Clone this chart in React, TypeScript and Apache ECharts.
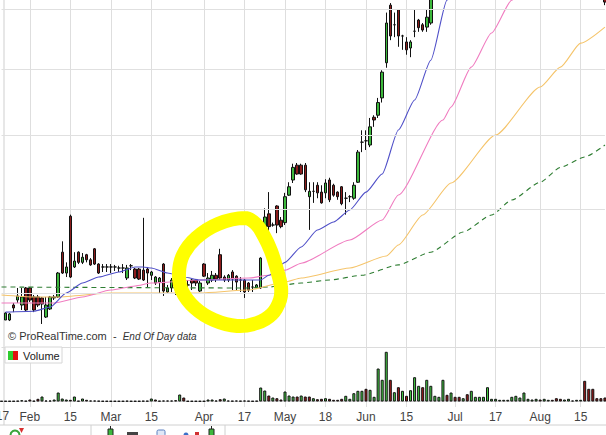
import React, { useEffect, useRef } from "react";
import * as echarts from "echarts";

// trading-day slots (index based), 150 sessions shown
const categories: string[] = Array.from({ length: 150 }, (_, i) => "day" + i);

// x-axis tick labels: [session index, text]
const tickLabels: [number, string][] = [
  [0, "17"], [7, "Feb"], [17, "15"], [27, "Mar"], [37, "15"], [50, "Apr"], [60, "17"],
  [70, "May"], [80, "18"], [90, "Jun"], [100, "15"], [112, "Jul"], [122, "17"], [133, "Aug"], [143, "15"],
];

// candles: [index, open, close, low, high]
const candles: [number, number, number, number, number][] = [
  [1, 6.705, 6.78, 6.705, 6.79], [2, 6.705, 6.77, 6.694, 6.78], [3, 6.867, 6.835, 6.79, 6.89],
  [4, 6.922, 6.967, 6.89, 7.056], [5, 6.867, 6.956, 6.813, 7.056], [6, 7.056, 6.813, 6.80, 7.067],
  [7, 7.056, 6.922, 6.90, 7.067], [8, 6.956, 6.813, 6.79, 6.978], [9, 6.956, 6.867, 6.845, 6.978],
  [10, 6.945, 6.878, 6.663, 6.956], [11, 6.737, 6.867, 6.727, 6.956], [12, 6.824, 6.956, 6.813, 6.967],
  [13, 6.945, 6.956, 6.922, 6.978], [14, 6.956, 7.226, 6.945, 7.238], [15, 7.47, 7.226, 7.215, 7.60],
  [16, 7.226, 7.296, 7.18, 7.35], [17, 7.91, 7.18, 7.169, 7.93], [18, 7.296, 7.365, 7.284, 7.47],
  [19, 7.47, 7.35, 7.33, 7.48], [20, 7.35, 7.41, 7.33, 7.46], [21, 7.44, 7.38, 7.35, 7.45],
  [22, 7.38, 7.32, 7.31, 7.40], [23, 7.51, 7.33, 7.32, 7.52], [24, 7.33, 7.226, 7.215, 7.34],
  [25, 7.296, 7.296, 7.238, 7.33], [26, 7.296, 7.296, 7.238, 7.33], [27, 7.296, 7.296, 7.226, 7.33],
  [28, 7.296, 7.296, 7.25, 7.32], [29, 7.284, 7.284, 7.238, 7.31], [30, 7.284, 7.284, 7.226, 7.33],
  [31, 7.169, 7.284, 7.146, 7.32], [32, 7.31, 7.31, 7.26, 7.33], [33, 7.272, 7.169, 7.157, 7.284],
  [34, 7.272, 7.157, 7.146, 7.284], [35, 7.26, 7.146, 7.135, 7.89], [36, 7.272, 7.226, 7.067, 7.296],
  [37, 7.20, 7.238, 7.146, 7.25], [38, 7.112, 7.18, 7.09, 7.19], [39, 7.123, 7.169, 7.00, 7.18],
  [40, 7.33, 7.022, 6.967, 7.34], [41, 7.011, 7.056, 6.989, 7.09], [42, 7.056, 7.146, 7.011, 7.169],
  [43, 7.09, 7.09, 6.978, 7.146], [44, 7.067, 7.112, 7.045, 7.123], [45, 7.146, 7.101, 7.056, 7.169],
  [46, 7.09, 7.09, 7.011, 7.146], [47, 7.146, 7.112, 7.033, 7.157], [48, 7.146, 7.112, 7.079, 7.157],
  [49, 7.022, 7.112, 7.011, 7.135], [50, 7.33, 7.19, 7.18, 7.34], [51, 7.112, 7.169, 7.09, 7.226],
  [52, 7.146, 7.20, 7.123, 7.25], [53, 7.20, 7.157, 7.123, 7.226], [54, 7.44, 7.169, 7.146, 7.51],
  [55, 7.18, 7.146, 7.123, 7.20], [56, 7.146, 7.20, 7.123, 7.215], [57, 7.238, 7.157, 7.033, 7.26],
  [58, 7.19, 7.123, 7.033, 7.20], [59, 7.146, 7.146, 7.011, 7.18], [60, 7.146, 7.011, 6.945, 7.157],
  [61, 7.112, 7.033, 7.011, 7.123], [62, 7.067, 7.067, 7.011, 7.146], [63, 7.056, 7.09, 7.045, 7.101],
  [64, 7.056, 7.40, 7.045, 7.41], [65, 7.62, 7.90, 7.50, 8.01], [66, 7.94, 7.78, 7.70, 8.22],
  [67, 7.80, 7.80, 7.78, 7.83], [68, 8.04, 7.80, 7.70, 8.05], [69, 7.86, 7.78, 7.76, 7.90],
  [70, 7.83, 8.16, 7.80, 8.21], [71, 8.18, 8.29, 8.17, 8.35], [72, 8.38, 8.55, 8.34, 8.60],
  [73, 8.58, 8.46, 8.45, 8.61], [74, 8.58, 8.46, 8.45, 8.60], [75, 8.58, 8.25, 8.22, 8.61],
  [76, 8.16, 8.23, 7.74, 8.35], [77, 8.23, 8.23, 8.08, 8.35], [78, 8.31, 8.21, 8.14, 8.35],
  [79, 8.22, 8.08, 8.07, 8.31], [80, 8.21, 8.34, 8.14, 8.39], [81, 8.38, 8.12, 8.09, 8.41],
  [82, 8.31, 8.18, 8.16, 8.33], [83, 8.22, 8.16, 8.12, 8.23], [84, 8.29, 8.07, 8.05, 8.30],
  [85, 8.14, 8.14, 7.93, 8.22], [86, 8.16, 8.16, 8.09, 8.18], [87, 8.14, 8.31, 8.12, 8.35],
  [88, 8.35, 8.76, 8.34, 8.79], [89, 8.90, 8.90, 8.76, 9.07], [90, 8.92, 8.92, 8.79, 9.07],
  [91, 8.86, 9.12, 8.83, 9.25], [92, 9.26, 9.22, 9.12, 9.29], [93, 9.29, 9.48, 9.25, 9.55],
  [94, 9.55, 9.95, 9.48, 9.98], [95, 10.10, 10.76, 10.02, 10.94], [96, 11.07, 10.54, 10.47, 11.107],
  [97, 10.73, 10.73, 10.52, 10.94], [98, 10.99, 10.54, 10.36, 10.99], [99, 10.54, 10.54, 10.31, 10.56],
  [100, 10.44, 10.31, 10.23, 10.52], [101, 10.34, 10.44, 10.19, 10.47], [102, 10.62, 10.62, 10.52, 10.99],
  [103, 10.81, 10.68, 10.61, 10.83], [104, 10.73, 10.64, 10.61, 10.76], [105, 10.69, 10.86, 10.61, 10.99],
  [106, 10.76, 11.43, 10.73, 11.52], [149, 11.52, 11.125, 11.07, 11.61],
];

// moving averages: [index, value]
const maBlue: [number, number][] = [
  [1, 6.79], [8, 6.80], [12, 6.845], [16, 7.0], [20, 7.112], [24, 7.18], [29, 7.238], [33, 7.296],
  [35, 7.296], [37, 7.284], [41, 7.226], [45, 7.18], [49, 7.146], [57, 7.146], [64, 7.146], [66, 7.2],
  [70, 7.35], [74, 7.532], [78, 7.738], [82, 7.838], [86, 7.989], [90, 8.22], [94, 8.46], [98, 9.074],
  [102, 9.518], [106, 10.14], [110, 11.16], [113, 11.81],
];
const maPink: [number, number][] = [
  [0, 6.89], [13, 6.89], [20, 6.956], [27, 7.033], [33, 7.079], [37, 7.112], [49, 7.146], [61, 7.169],
  [66, 7.2], [70, 7.26], [74, 7.34], [86, 7.616], [94, 7.863], [98, 8.182], [109, 9.22], [111, 9.413],
  [116, 10.03], [121, 10.59], [126, 11.16], [130, 11.61],
];
const maOrange: [number, number][] = [
  [0, 6.978], [8, 6.956], [14, 6.956], [27, 7.0], [37, 7.0], [49, 7.0], [61, 7.033], [70, 7.123],
  [74, 7.169], [86, 7.284], [95, 7.424], [98, 7.556], [104, 7.926], [111, 8.34], [122, 9.002],
  [133, 9.717], [138, 10.03], [143, 10.42], [149, 10.69],
];
const maGreen: [number, number][] = [
  [0, 7.067], [61, 7.056], [66, 7.067], [74, 7.112], [81, 7.146], [89, 7.2], [98, 7.32], [106, 7.47],
  [114, 7.714], [121, 7.926], [126, 8.117], [133, 8.35], [138, 8.55], [144, 8.692], [149, 8.86],
];

// volume (thousands) per session and direction (u = up day, d = down day)
const volumes: number[] = [
  5, 5, 5, 5, 7, 13, 7, 20, 7, 27,
  50, 10, 10, 20, 90, 30, 20, 17, 50, 7,
  30, 17, 10, 10, 7, 5, 5, 5, 5, 5,
  5, 7, 5, 5, 5, 7, 7, 30, 20, 7,
  10, 10, 10, 13, 70, 40, 5, 5, 5, 5,
  5, 20, 20, 10, 23, 30, 10, 7, 10, 7,
  10, 7, 5, 7, 140, 110, 60, 40, 33, 20,
  100, 60, 50, 50, 60, 50, 50, 33, 23, 27,
  33, 27, 17, 17, 27, 57, 27, 83, 107, 107,
  127, 117, 47, 330, 217, 497, 217, 93, 143, 107,
  57, 113, 243, 157, 143, 217, 157, 57, 47, 217,
  67, 90, 47, 47, 33, 73, 107, 47, 47, 47,
  143, 27, 27, 17, 17, 17, 47, 57, 40, 90,
  27, 20, 27, 20, 27, 17, 17, 33, 27, 20,
  27, 10, 17, 17, 207, 127, 127, 33, 33, 40,
];
const volumeDir =
  "uuuduudddd" + "uuuuuuudud" + "uddddududu" + "duuddddudu" + "duudududdu" +
  "duudduuddu" + "dduuuududd" + "uuududdudd" + "udddduuuuu" + "duuuuududu" +
  "duuuduuuuu" + "dudduduuuu" + "uuuuuuuuuu" + "uuuduudddu" + "uuuudddddd";

// horizontal price grid levels
const priceLevels: number[] = [7, 8, 9, 10, 11];

const UP = "#3cb83c";
const DOWN = "#8c1c1c";
const FONT = "'Liberation Sans', Arial, sans-serif";

export default function App() {
  const ref = useRef<HTMLDivElement>(null);

  useEffect(() => {
    document.body.style.margin = "0";
    if (!ref.current) return;
    const chart = echarts.init(ref.current, undefined, { renderer: "svg" });

    const labelIdx = new Set(tickLabels.map((t) => t[0]));
    const labelText = new Map(tickLabels);
    const firstLabel = tickLabels[0][1];

    const candleData: any[] = categories.map(() => "-");
    candles.forEach(([i, o, c, l, h]) => {
      candleData[i] = [o, c, l, h];
    });

    const volData = volumes.map((v, i) => ({
      value: v,
      itemStyle: { color: volumeDir[i] === "u" ? "#44cc44" : "#a01a1a" },
    }));

    const maLine = (name: string, data: [number, number][], color: string, dashed = false) => ({
      name,
      type: "line",
      xAxisIndex: 0,
      yAxisIndex: 0,
      data,
      symbol: "none",
      smooth: 0.2,
      smoothMonotone: "x",
      z: 4,
      lineStyle: { color, width: 1.1, type: dashed ? [5, 4] : "solid" },
    });

    const ringPts = [
      [245, 218], [218, 224], [196, 238], [183, 255], [179, 273], [182, 291], [195, 308],
      [214, 320], [237, 326], [257, 323], [272, 314], [280, 300], [281, 287], [277, 270],
      [271, 251], [264, 236], [256, 224],
    ];

    const option: any = {
      animation: false,
      backgroundColor: "#ffffff",
      grid: [
        { left: 1.5, right: 1.05, top: 0, height: 347 },
        { left: 1.5, right: 1.05, top: 347, height: 60 },
      ],
      xAxis: [
        {
          type: "category",
          gridIndex: 0,
          data: categories,
          boundaryGap: false,
          axisLine: { show: false },
          axisTick: { show: false },
          axisLabel: { show: false },
          splitLine: {
            show: true,
            interval: (i: number) => labelIdx.has(i) && i !== 0,
            lineStyle: { color: "#dedede", width: 1 },
          },
        },
        {
          type: "category",
          gridIndex: 1,
          data: categories,
          boundaryGap: false,
          axisLine: { show: true, lineStyle: { color: "#cfcfcf" } },
          axisTick: { show: false },
          axisLabel: {
            show: true,
            interval: (i: number) => labelIdx.has(i) && i !== 0,
            formatter: (_v: string, i: number) => labelText.get(i) ?? "",
            color: "#444",
            fontSize: 12,
            fontFamily: FONT,
            margin: 4,
          },
          splitLine: {
            show: true,
            interval: (i: number) => labelIdx.has(i) && i !== 0,
            lineStyle: { color: "#dedede", width: 1 },
          },
        },
      ],
      yAxis: [
        { type: "log", gridIndex: 0, min: 6.4231, max: 11.1614, show: false },
        { type: "value", gridIndex: 1, min: -55, max: 545, show: false },
      ],
      series: [
        {
          name: "grid",
          type: "line",
          xAxisIndex: 0,
          yAxisIndex: 0,
          data: [[0, 7]],
          symbol: "none",
          lineStyle: { opacity: 0 },
          z: 0,
          silent: true,
          markLine: {
            silent: true,
            symbol: ["none", "none"],
            label: { show: false },
            lineStyle: { color: "#e0e0e0", width: 1, type: "solid" },
            data: priceLevels.map((v) => ({ yAxis: v })),
          },
        },
        {
          name: "Price",
          type: "candlestick",
          xAxisIndex: 0,
          yAxisIndex: 0,
          data: candleData,
          barWidth: 3,
          z: 3,
          itemStyle: {
            color: UP,
            color0: DOWN,
            borderColor: "#111",
            borderColor0: "#111",
            borderWidth: 1,
          },
        },
        maLine("MA long", maGreen, "#2e7d32", true),
        maLine("MA 50", maOrange, "#f5c46a"),
        maLine("MA 20", maPink, "#f07cc0"),
        maLine("MA 10", maBlue, "#4f4fc8"),
        {
          name: "Volume",
          type: "bar",
          xAxisIndex: 1,
          yAxisIndex: 1,
          data: volData,
          barWidth: 3,
          itemStyle: { borderColor: "#111", borderWidth: 1 },
          markLine: {
            silent: true,
            symbol: ["none", "none"],
            label: { show: false },
            lineStyle: { color: "#dcdcdc", width: 1, type: "solid" },
            data: [{ yAxis: 545 }],
          },
        },
      ],
      graphic: [
        {
          type: "line",
          shape: { x1: 4, y1: 0, x2: 4, y2: 425 },
          style: { stroke: "#cfcfcf", lineWidth: 1 },
          z: 1,
        },
        {
          type: "text",
          x: 2.5,
          y: 416,
          style: {
            text: firstLabel,
            fontSize: 12,
            fontFamily: FONT,
            fill: "#444",
            textAlign: "center",
            verticalAlign: "middle",
          },
          z: 5,
        },
        {
          type: "polygon",
          shape: { points: ringPts, smooth: 0.35 },
          style: { fill: "none", stroke: "#ffff00", lineWidth: 14 },
          z: 100,
        },
        {
          type: "text",
          x: 8,
          y: 336,
          style: {
            text: "{a|© ProRealTime.com}{b|  -  }{c|End Of Day data}",
            verticalAlign: "middle",
            rich: {
              a: { fontSize: 11, fontFamily: FONT, fill: "#333" },
              b: { fontSize: 11, fontFamily: FONT, fill: "#333" },
              c: { fontSize: 10, fontFamily: FONT, fontStyle: "italic", fill: "#333" },
            },
          },
          z: 50,
        },
        {
          type: "rect",
          shape: { x: 5, y: 347, width: 57, height: 16 },
          style: { fill: "#ffffff", stroke: "#d6d6d6", lineWidth: 1 },
          z: 50,
        },
        { type: "rect", shape: { x: 8, y: 351, width: 5, height: 9 }, style: { fill: "#2ecc2e" }, z: 51 },
        { type: "rect", shape: { x: 13, y: 351, width: 5, height: 9 }, style: { fill: "#e01010" }, z: 51 },
        {
          type: "text",
          x: 23,
          y: 356,
          style: { text: "Volume", fontSize: 11, fontFamily: FONT, fill: "#222", verticalAlign: "middle" },
          z: 51,
        },
        // bottom toolbar strip
        { type: "line", shape: { x1: 0, y1: 425, x2: 606, y2: 425 }, style: { stroke: "#d0d0d0", lineWidth: 1 } },
        { type: "line", shape: { x1: 91, y1: 425, x2: 91, y2: 435 }, style: { stroke: "#d0d0d0", lineWidth: 1 } },
        { type: "line", shape: { x1: 225, y1: 425, x2: 225, y2: 435 }, style: { stroke: "#d0d0d0", lineWidth: 1 } },
        { type: "circle", shape: { cx: 15, cy: 435, r: 4.5 }, style: { fill: "none", stroke: "#3aa53a", lineWidth: 2 } },
        { type: "polygon", shape: { points: [[19, 428], [24, 428], [21.5, 433]] }, style: { fill: "#d83030" } },
        { type: "line", shape: { x1: 110.5, y1: 426, x2: 110.5, y2: 430 }, style: { stroke: "#222", lineWidth: 1 } },
        { type: "rect", shape: { x: 108, y: 429, width: 5, height: 7 }, style: { fill: "#3cb83c", stroke: "#222", lineWidth: 1 } },
        { type: "rect", shape: { x: 127, y: 432, width: 11, height: 4 }, style: { fill: "#444" } },
        { type: "rect", shape: { x: 157, y: 430, width: 8, height: 6, r: 1.5 }, style: { fill: "#dfe8f7", stroke: "#5a7fc0", lineWidth: 1 } },
        { type: "circle", shape: { cx: 186, cy: 435, r: 2.5 }, style: { fill: "#3a6fc8" } },
        { type: "rect", shape: { x: 195, y: 432, width: 4, height: 4 }, style: { fill: "#d03030" } },
        { type: "line", shape: { x1: 211.5, y1: 426, x2: 211.5, y2: 430 }, style: { stroke: "#222", lineWidth: 1 } },
        { type: "rect", shape: { x: 209, y: 429, width: 5, height: 7 }, style: { fill: "#3cb83c", stroke: "#222", lineWidth: 1 } },
      ],
    };

    chart.setOption(option);
    return () => chart.dispose();
  }, []);

  return <div ref={ref} style={{ width: 606, height: 435 }} />;
}
